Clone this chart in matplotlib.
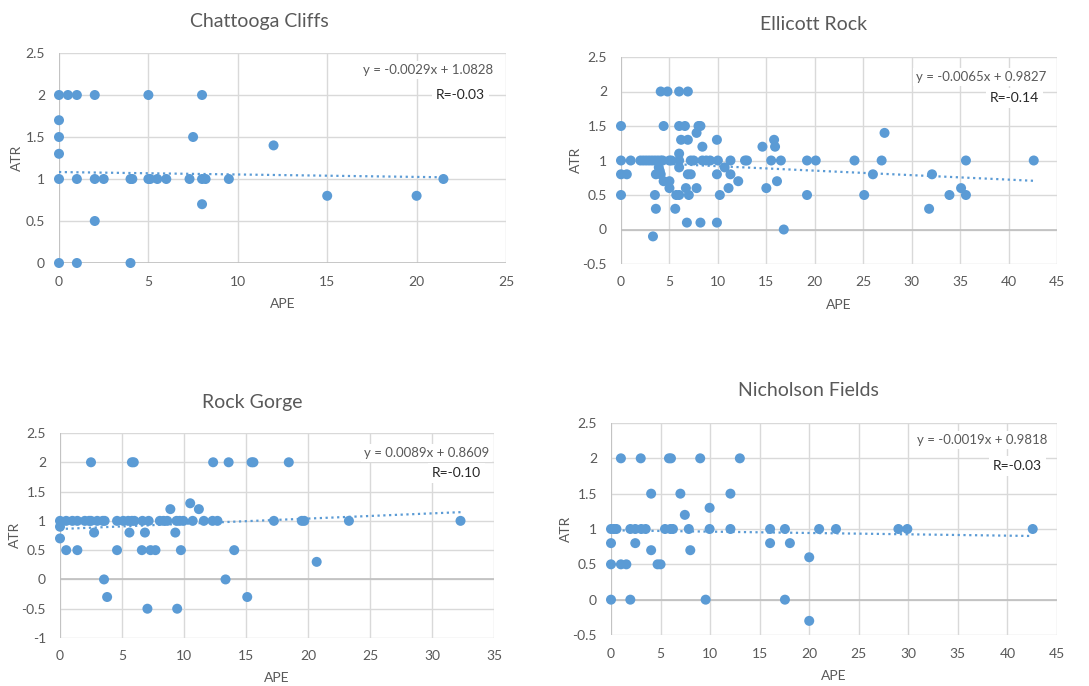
import numpy as np
import matplotlib
matplotlib.use('Agg')
import matplotlib.pyplot as plt

plt.rcParams['font.family'] = ['Lato', 'DejaVu Sans']

BLUE = '#5B9BD5'
GRAY = '#595959'

# Chattooga Cliffs
cc_ape = [0, 0.5, 1, 2, 5, 8, 0, 0, 7.5, 0, 12,
          0, 1, 2, 2.5, 4, 4.1, 5, 5.1, 5.5, 6, 7.3, 8, 8.2, 9.5, 21.5,
          15, 20, 8, 2, 0, 1, 4]
cc_atr = [2, 2, 2, 2, 2, 2, 1.7, 1.5, 1.5, 1.3, 1.4,
          1, 1, 1, 1, 1, 1, 1, 1, 1, 1, 1, 1, 1, 1, 1,
          0.8, 0.8, 0.7, 0.5, 0, 0, 0]

# Ellicott Rock
er_ape = [4.1, 4.8, 6.0, 6.9,
          0, 4.4, 6.0, 6.6, 8.0, 8.2,
          7.8, 27.2,
          6.2, 6.9, 9.9, 15.8,
          8.4, 14.6, 15.9,
          6.0,
          0, 1.0, 2.0, 2.3, 2.6, 2.9, 3.2, 3.5, 3.8, 4.1, 4.3, 5.0, 5.2, 6.0, 7.2, 7.5,
          8.4, 8.8, 9.2, 10.0, 11.3, 12.8, 13.0, 15.5, 16.5, 19.2, 20.1, 24.1, 26.9, 35.6, 42.6,
          3.9, 6.0, 10.7, 4.0,
          0, 0.6, 3.6, 4.1, 6.9, 7.2, 9.9, 11.3, 26.0, 32.1,
          4.4, 5.0, 12.1, 16.1,
          5.0, 6.7, 7.8, 11.1, 15.0, 35.1,
          0, 3.5, 5.7, 6.0, 7.0, 10.2, 19.2, 25.1, 33.9, 35.6,
          3.6, 5.6, 31.8,
          6.8, 8.2, 9.9,
          16.8, 3.3]
er_atr = [2, 2, 2, 2,
          1.5, 1.5, 1.5, 1.5, 1.5, 1.5,
          1.4, 1.4,
          1.3, 1.3, 1.3, 1.3,
          1.2, 1.2, 1.2,
          1.1,
          1, 1, 1, 1, 1, 1, 1, 1, 1, 1, 1, 1, 1, 1, 1, 1,
          1, 1, 1, 1, 1, 1, 1, 1, 1, 1, 1, 1, 1, 1, 1,
          0.9, 0.9, 0.9, 0.85,
          0.8, 0.8, 0.8, 0.8, 0.8, 0.8, 0.8, 0.8, 0.8, 0.8,
          0.7, 0.7, 0.7, 0.7,
          0.6, 0.6, 0.6, 0.6, 0.6, 0.6,
          0.5, 0.5, 0.5, 0.5, 0.5, 0.5, 0.5, 0.5, 0.5, 0.5,
          0.3, 0.3, 0.3,
          0.1, 0.1, 0.1,
          0, -0.1]

# Rock Gorge
rg_ape = [2.5, 5.8, 5.95, 12.35, 13.6, 15.45, 15.6, 18.45,
          10.5, 8.9, 11.2,
          0, 0.5, 1.0, 1.4, 2.0, 2.35, 2.5, 3.0, 3.45, 3.6, 4.6, 5.1, 5.5, 5.8, 6.0, 6.65,
          7.15, 8.05, 8.35, 8.65, 9.4, 9.65, 9.95, 10.7, 11.6, 12.3, 12.7, 17.25, 19.5, 19.7,
          23.3, 32.3,
          0, 2.75, 5.6, 6.85, 9.3, 0,
          0.5, 1.4, 4.6, 6.6, 7.3, 7.7, 9.75, 14.05,
          20.7, 3.55, 13.35, 3.8, 15.1, 7.05, 9.45]
rg_atr = [2, 2, 2, 2, 2, 2, 2, 2,
          1.3, 1.2, 1.2,
          1, 1, 1, 1, 1, 1, 1, 1, 1, 1, 1, 1, 1, 1, 1, 1,
          1, 1, 1, 1, 1, 1, 1, 1, 1, 1, 1, 1, 1, 1,
          1, 1,
          0.9, 0.8, 0.8, 0.8, 0.8, 0.7,
          0.5, 0.5, 0.5, 0.5, 0.5, 0.5, 0.5, 0.5,
          0.3, 0, 0, -0.3, -0.3, -0.5, -0.5]

# Nicholson Fields
nf_ape = [1.0, 3.0, 5.85, 6.05, 9.0, 13.0,
          4.05, 7.0, 12.05, 9.95, 7.45,
          0, 0.3, 0.55, 1.95, 2.45, 3.05, 3.5, 5.45, 6.0, 6.25, 7.85, 9.95, 12.05,
          16.05, 17.55, 21.0, 22.7, 29.0, 29.9, 42.55,
          0, 2.45, 16.05, 18.05, 4.05, 8.0, 20.0,
          0, 1.0, 1.55, 4.7, 5.0,
          0, 1.95, 9.55, 17.55, 20.0]
nf_atr = [2, 2, 2, 2, 2, 2,
          1.5, 1.5, 1.5, 1.3, 1.2,
          1, 1, 1, 1, 1, 1, 1, 1, 1, 1, 1, 1, 1,
          1, 1, 1, 1, 1, 1, 1,
          0.8, 0.8, 0.8, 0.8, 0.7, 0.7, 0.6,
          0.5, 0.5, 0.5, 0.5, 0.5,
          0, 0, 0, 0, -0.3]

panels = [
    # title, x, y, slope, intercept, R text, x max, y min
    ('Chattooga Cliffs', cc_ape, cc_atr, -0.0029, 1.0828, 'R=-0.03', 25, 0),
    ('Ellicott Rock', er_ape, er_atr, -0.0065, 0.9827, 'R=-0.14', 45, -0.5),
    ('Rock Gorge', rg_ape, rg_atr, 0.0089, 0.8609, 'R=-0.10', 35, -1),
    ('Nicholson Fields', nf_ape, nf_atr, -0.0019, 0.9818, 'R=-0.03', 45, -0.5),
]

W, H = 1089, 686
# plot-area boxes in pixels: left, top, right, bottom
boxes = [(59, 53, 506, 263), (621, 57, 1057, 264), (60, 433, 494, 638), (611, 423, 1057, 635)]
titles_xy = [(259, 22), (814, 25), (252, 403), (808, 391)]
ylab_xy = [(17, 158), (576, 160), (15, 535), (566, 529)]
xlab_xy = [(283, 304), (839, 305), (277, 678), (834, 676)]
eq_pos = [(0.971, 0.919, 0.953, 0.80), (0.975, 0.903, 0.959, 0.802),
          (0.988, 0.902, 0.970, 0.805), (0.978, 0.92, 0.966, 0.797)]

fig = plt.figure(figsize=(W / 100, H / 100), dpi=100)

for i, (title, x, y, m, b, rtxt, xmax, ymin) in enumerate(panels):
    l, t, r, btm = boxes[i]
    ax = fig.add_axes([l / W, 1 - btm / H, (r - l) / W, (btm - t) / H])
    ax.set_xlim(0, xmax)
    ax.set_ylim(ymin, 2.5)
    ax.set_xticks(np.arange(0, xmax + 1, 5))
    ax.set_yticks(np.arange(ymin, 2.51, 0.5))
    ax.set_yticklabels([('%g' % v) for v in np.arange(ymin, 2.51, 0.5)])
    ax.grid(True, color='#D9D9D9', lw=1)
    ax.set_axisbelow(True)
    for s in ax.spines.values():
        s.set_visible(False)
    ax.axhline(0, color='#BFBFBF', lw=1.2, zorder=1)
    ax.axvline(0, color='#BFBFBF', lw=1.2, zorder=1)
    ax.tick_params(length=0, labelsize=10, labelcolor=GRAY)
    ax.tick_params(axis='y', pad=10)
    ax.tick_params(axis='x', pad=9)

    ax.scatter(x, y, s=52, color=BLUE, edgecolors='none', zorder=3, clip_on=False)

    # linear trendline over the data range
    xs = np.array([min(x), max(x)])
    ax.plot(xs, m * xs + b, color=BLUE, lw=1.6, ls=(0, (1, 1.6)), zorder=2)

    ex, ey, rx, ry = eq_pos[i]
    sign = '-' if m < 0 else ''
    eq = 'y = %s%.4fx + %.4f' % (sign, abs(m), b)
    ax.text(ex, ey, eq, transform=ax.transAxes, ha='right', va='center',
            fontsize=9.5, color=GRAY, zorder=4,
            bbox=dict(facecolor='white', edgecolor='none', pad=2))
    ax.text(rx, ry, rtxt, transform=ax.transAxes, ha='right', va='center',
            fontsize=10, color='#262626', zorder=4,
            bbox=dict(facecolor='white', edgecolor='none', pad=3))

    tx, ty = titles_xy[i]
    fig.text(tx / W, 1 - ty / H, title, ha='center', va='center', fontsize=14, color=GRAY)
    yx, yy = ylab_xy[i]
    fig.text(yx / W, 1 - yy / H, 'ATR', ha='center', va='center', rotation=90,
             fontsize=10, color=GRAY)
    xx, xy = xlab_xy[i]
    fig.text(xx / W, 1 - xy / H, 'APE', ha='center', va='center', fontsize=10, color=GRAY)

fig.savefig('out.png', dpi=100, facecolor='white')
